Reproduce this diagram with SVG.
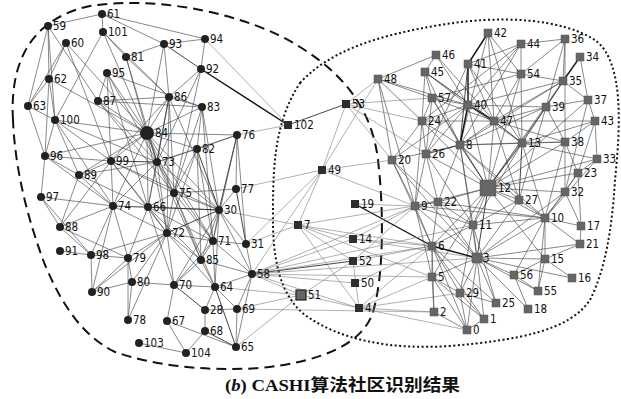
<svg xmlns="http://www.w3.org/2000/svg" width="621" height="399" viewBox="0 0 621 399">
<style>
.bg{fill:#fff}
.e path{fill:none;stroke:#484848;stroke-width:0.65}
.e path.d{stroke:#222;stroke-width:0.85}
.e path.t{stroke:#111;stroke-width:1.4}
.e path.g{stroke:#7a7a7a;stroke-width:0.6}
.L circle{fill:#222}
.D rect{fill:#2e2e2e}
.R rect{fill:#666;stroke:#555;stroke-width:0.5}
text.l{font-family:"DejaVu Sans Condensed","DejaVu Sans",sans-serif;font-size:11.5px;fill:#111}
.cap{font-family:"Liberation Serif","Noto Sans CJK SC",serif;font-size:17px;font-weight:bold;fill:#111}
</style>
<rect class="bg" x="0" y="0" width="621" height="399"/>
<g id="boundaries" fill="none" stroke="#111" stroke-width="2">
<path d="M13 120C10 70 25 20 90 6C160 -5 250 15 300 47C345 75 372 110 378 160C384 210 384 280 372 315C360 345 320 362 260 368C200 372 150 364 115 352C80 335 60 300 45 265C28 220 15 170 13 120Z" stroke-dasharray="10,6"/>
<path d="M300 83C330 50 380 35 440 25C500 15 560 18 595 40C625 62 620 130 615 180C612 230 605 270 590 300C570 330 520 340 450 346C390 350 340 340 305 315C280 295 272 260 273 210C273 160 276 120 300 83Z" stroke-dasharray="2,2.5"/>
</g>
<g id="connectors" class="e">
<path d="M48 26 102 14"/><path d="M48 26 49 79"/><path d="M48 26 28 106"/><path d="M48 26 98 101"/><path d="M48 26 55 120"/>
<path d="M66 43 49 79"/><path d="M66 43 28 106"/><path d="M66 43 147 133"/><path d="M66 43 111 161"/>
<path d="M102 14 103 32"/><path d="M102 14 205 39"/><path d="M102 14 164 44"/>
<path d="M103 32 126 57"/><path d="M103 32 169 97"/><path d="M103 32 55 120"/><path d="M103 32 147 133"/>
<path d="M126 57 164 44"/><path d="M126 57 169 97"/><path d="M126 57 147 133"/><path d="M126 57 157 162"/>
<path d="M164 44 205 39"/><path class="d" d="M164 44 201 69"/><path d="M164 44 169 97"/><path d="M164 44 147 133"/>
<path d="M205 39 201 69"/><path class="g" d="M205 39 288 125"/><path class="t" d="M201 69 288 125"/>
<path d="M201 69 174 193"/><path d="M201 69 157 162"/><path d="M201 69 169 97"/>
<path d="M107 73 98 101"/><path d="M107 73 147 133"/><path d="M107 73 157 162"/><path d="M107 73 111 161"/><path d="M107 73 148 207"/><path d="M107 73 202 107"/>
<path d="M49 79 28 106"/><path d="M49 79 55 120"/><path d="M49 79 45 156"/><path d="M49 79 147 133"/>
<path d="M98 101 147 133"/><path d="M98 101 169 97"/><path d="M98 101 202 107"/><path d="M98 101 157 162"/><path d="M98 101 174 193"/>
<path d="M169 97 147 133"/><path d="M169 97 202 107"/><path class="d" d="M169 97 157 162"/><path d="M169 97 148 207"/><path d="M169 97 167 233"/><path d="M169 97 111 161"/><path d="M169 97 219 210"/><path d="M169 97 174 193"/>
<path d="M202 107 147 133"/><path d="M202 107 197 149"/><path d="M202 107 219 210"/><path d="M202 107 174 193"/><path d="M202 107 213 241"/>
<path d="M28 106 55 120"/><path d="M28 106 45 156"/>
<path d="M55 120 111 161"/><path d="M55 120 147 133"/><path d="M55 120 45 156"/><path d="M55 120 79 175"/><path d="M55 120 157 162"/><path d="M55 120 113 206"/>
<path d="M147 133 237 135"/><path class="d" d="M147 133 157 162"/><path d="M147 133 197 149"/><path d="M147 133 111 161"/><path d="M147 133 148 207"/><path d="M147 133 219 210"/><path d="M147 133 167 233"/><path d="M147 133 113 206"/><path d="M147 133 174 193"/><path d="M147 133 213 241"/><path d="M147 133 79 175"/><path d="M147 133 45 156"/>
<path d="M237 135 197 149"/><path d="M237 135 236 189"/><path class="d" d="M237 135 219 210"/><path d="M237 135 246 244"/><path class="g" d="M237 135 288 125"/><path d="M237 135 157 162"/><path d="M237 135 213 241"/>
<path d="M197 149 157 162"/><path class="d" d="M197 149 219 210"/><path d="M197 149 213 241"/><path d="M197 149 174 193"/><path d="M197 149 167 233"/><path d="M197 149 201 260"/>
<path class="d" d="M157 162 111 161"/><path d="M157 162 148 207"/><path d="M157 162 174 193"/><path d="M157 162 219 210"/><path d="M157 162 167 233"/><path d="M157 162 113 206"/><path d="M157 162 213 241"/><path d="M157 162 79 175"/><path d="M157 162 201 260"/>
<path d="M111 161 45 156"/><path d="M111 161 79 175"/><path d="M111 161 113 206"/><path d="M111 161 148 207"/><path d="M111 161 167 233"/><path d="M111 161 219 210"/><path d="M111 161 60 227"/><path d="M111 161 174 193"/>
<path d="M45 156 79 175"/><path d="M45 156 41 197"/><path d="M45 156 113 206"/>
<path d="M79 175 113 206"/><path d="M79 175 60 227"/><path d="M79 175 148 207"/>
<path d="M41 197 60 227"/><path d="M41 197 113 206"/><path d="M41 197 91 255"/>
<path d="M113 206 148 207"/><path d="M113 206 167 233"/><path d="M113 206 91 255"/><path d="M113 206 128 258"/><path d="M113 206 60 227"/><path d="M113 206 219 210"/><path d="M113 206 92 292"/>
<path d="M148 207 167 233"/><path class="d" d="M148 207 219 210"/><path d="M148 207 174 193"/><path d="M148 207 128 258"/><path d="M148 207 213 241"/><path d="M148 207 201 260"/><path d="M148 207 174 285"/>
<path d="M174 193 236 189"/><path d="M174 193 219 210"/><path d="M174 193 167 233"/><path d="M174 193 213 241"/><path d="M174 193 201 260"/><path d="M174 193 215 287"/>
<path d="M236 189 219 210"/><path class="d" d="M236 189 246 244"/><path class="g" d="M236 189 322 170"/>
<path d="M219 210 213 241"/><path class="d" d="M219 210 167 233"/><path d="M219 210 246 244"/><path d="M219 210 201 260"/><path d="M219 210 252 274"/><path class="g" d="M219 210 298 225"/><path d="M219 210 174 285"/><path d="M219 210 215 287"/>
<path d="M167 233 213 241"/><path d="M167 233 128 258"/><path d="M167 233 201 260"/><path d="M167 233 174 285"/><path d="M167 233 215 287"/><path d="M167 233 91 255"/><path d="M167 233 132 282"/><path d="M167 233 92 292"/><path d="M167 233 128 320"/>
<path d="M213 241 246 244"/><path d="M213 241 201 260"/><path d="M213 241 252 274"/><path d="M213 241 215 287"/><path d="M213 241 174 285"/>
<path d="M246 244 252 274"/><path class="g" d="M246 244 298 225"/>
<path d="M60 227 91 255"/><path d="M60 227 128 258"/><path d="M60 251 91 255"/>
<path d="M91 255 128 258"/><path d="M91 255 92 292"/>
<path d="M128 258 132 282"/><path d="M128 258 92 292"/><path d="M128 258 128 320"/>
<path d="M132 282 128 320"/><path d="M132 282 174 285"/><path d="M132 282 92 292"/>
<path d="M201 260 174 285"/><path d="M201 260 215 287"/><path d="M201 260 252 274"/>
<path class="d" d="M174 285 205 310"/><path d="M174 285 167 321"/><path d="M174 285 215 287"/>
<path d="M215 287 252 274"/><path d="M215 287 205 310"/><path class="d" d="M215 287 236 347"/><path class="g" d="M215 287 301 295"/><path d="M215 287 237 309"/>
<path d="M252 274 237 309"/><path d="M252 274 236 347"/><path class="g" d="M252 274 301 295"/>
<path d="M205 310 205 331"/><path d="M205 310 237 309"/>
<path d="M237 309 236 347"/><path class="g" d="M237 309 301 295"/>
<path d="M167 321 186 353"/><path d="M167 321 236 347"/>
<path class="d" d="M205 331 236 347"/><path d="M205 331 186 353"/><path d="M139 343 186 353"/>
<path class="d" d="M288 125 346 104"/>
<path class="g" d="M346 104 392 160"/><path class="g" d="M346 104 422 121"/><path class="g" d="M346 104 432 98"/><path class="g" d="M346 104 426 154"/><path class="g" d="M346 104 322 170"/><path class="g" d="M346 104 378 79"/>
<path class="g" d="M322 170 392 160"/><path class="g" d="M322 170 298 225"/><path class="g" d="M322 170 415 206"/><path class="g" d="M322 170 378 79"/><path class="g" d="M322 170 246 244"/><path class="g" d="M322 170 252 274"/>
<path class="g" d="M355 204 415 206"/><path class="t" d="M355 204 432 246"/>
<path class="g" d="M298 225 353 239"/><path class="g" d="M298 225 353 261"/><path class="g" d="M298 225 359 308"/><path class="g" d="M298 225 432 246"/><path class="g" d="M298 225 432 277"/><path class="g" d="M298 225 438 202"/>
<path class="g" d="M353 239 432 246"/><path class="g" d="M353 239 415 206"/><path class="g" d="M353 239 477 258"/><path class="g" d="M353 239 252 274"/>
<path class="d" d="M353 261 252 274"/><path class="g" d="M353 261 432 246"/><path class="g" d="M353 261 415 206"/><path class="g" d="M353 261 359 308"/><path class="g" d="M353 261 301 295"/>
<path class="g" d="M355 283 252 274"/><path class="g" d="M355 283 432 246"/>
<path class="g" d="M359 308 460 293"/><path class="g" d="M359 308 434 312"/><path class="g" d="M359 308 467 330"/><path class="g" d="M359 308 432 246"/><path class="g" d="M359 308 432 277"/><path class="g" d="M359 308 252 274"/><path class="g" d="M359 308 301 295"/><path class="g" d="M237 309 434 312"/><path class="g" d="M236 347 301 295"/>
<path class="g" d="M252 274 432 246"/><path class="g" d="M252 274 432 277"/><path class="g" d="M252 274 477 258"/><path class="g" d="M252 274 415 206"/><path class="g" d="M252 274 473 225"/>
<path d="M378 79 392 160"/><path d="M378 79 436 55"/><path d="M378 79 432 98"/><path d="M378 79 422 121"/><path d="M378 79 468 105"/><path d="M378 79 415 206"/>
<path d="M436 55 425 72"/><path d="M436 55 468 105"/><path d="M436 55 494 121"/>
<path d="M425 72 432 98"/><path d="M425 72 422 121"/><path d="M425 72 468 105"/><path class="d" d="M425 72 494 121"/><path d="M425 72 460 145"/>
<path class="t" d="M488 33 468 64"/><path d="M488 33 494 121"/><path d="M488 33 521 74"/><path d="M488 33 460 145"/><path d="M488 33 522 143"/>
<path class="t" d="M468 64 468 105"/><path d="M468 64 521 74"/><path class="d" d="M468 64 460 145"/><path d="M468 64 494 121"/><path d="M468 64 522 143"/><path d="M468 64 426 154"/>
<path d="M521 44 468 105"/><path d="M521 44 521 74"/><path d="M521 44 468 64"/><path d="M521 44 565 39"/><path d="M521 44 460 145"/><path d="M521 44 422 121"/>
<path d="M565 39 563 81"/><path d="M565 39 546 107"/><path d="M565 39 521 74"/><path d="M565 39 565 142"/>
<path class="t" d="M580 57 563 81"/><path d="M580 57 588 100"/><path d="M580 57 546 107"/>
<path d="M521 74 494 121"/><path d="M521 74 522 143"/><path d="M521 74 563 81"/><path d="M521 74 488 188"/><path d="M521 74 432 98"/>
<path d="M563 81 546 107"/><path d="M563 81 494 121"/><path d="M563 81 588 100"/><path d="M563 81 522 143"/><path d="M563 81 460 145"/><path d="M563 81 468 105"/><path d="M563 81 488 188"/>
<path d="M432 98 468 105"/><path d="M432 98 422 121"/><path d="M432 98 426 154"/><path d="M432 98 494 121"/><path d="M432 98 460 145"/><path d="M432 98 488 188"/>
<path class="t" d="M468 105 494 121"/><path class="t" d="M468 105 460 145"/><path d="M468 105 422 121"/><path d="M468 105 546 107"/><path d="M468 105 522 143"/><path d="M468 105 426 154"/><path d="M468 105 488 188"/><path d="M468 105 392 160"/>
<path d="M546 107 588 100"/><path d="M546 107 494 121"/><path d="M546 107 565 142"/><path d="M546 107 522 143"/><path d="M546 107 488 188"/><path d="M546 107 519 200"/><path d="M546 107 460 145"/>
<path d="M588 100 595 121"/><path d="M588 100 565 192"/><path d="M588 100 488 188"/>
<path d="M422 121 426 154"/><path d="M422 121 392 160"/><path d="M422 121 460 145"/><path d="M422 121 494 121"/><path d="M422 121 415 206"/><path d="M422 121 488 188"/>
<path class="d" d="M494 121 522 143"/><path d="M494 121 460 145"/><path d="M494 121 488 188"/><path d="M494 121 595 121"/><path d="M494 121 519 200"/><path d="M494 121 565 142"/>
<path d="M595 121 565 142"/><path d="M595 121 597 159"/><path d="M595 121 578 173"/><path d="M595 121 522 143"/>
<path d="M392 160 415 206"/><path d="M392 160 477 258"/><path d="M392 160 432 246"/><path d="M392 160 460 145"/><path d="M392 160 438 202"/>
<path class="d" d="M426 154 460 145"/><path d="M426 154 488 188"/><path d="M426 154 438 202"/><path d="M426 154 415 206"/><path d="M426 154 473 225"/>
<path class="d" d="M460 145 488 188"/><path d="M460 145 522 143"/><path d="M460 145 519 200"/><path d="M460 145 473 225"/><path d="M460 145 438 202"/><path d="M460 145 477 258"/><path d="M460 145 545 218"/><path d="M460 145 565 142"/>
<path class="d" d="M522 143 488 188"/><path class="d" d="M522 143 519 200"/><path d="M522 143 565 142"/><path d="M522 143 597 159"/><path d="M522 143 473 225"/><path d="M522 143 545 218"/>
<path d="M565 142 578 173"/><path d="M565 142 565 192"/><path d="M565 142 545 218"/><path d="M565 142 488 188"/>
<path d="M597 159 578 173"/><path d="M597 159 488 188"/><path d="M597 159 545 218"/>
<path d="M578 173 545 218"/><path d="M578 173 565 192"/><path d="M578 173 581 226"/><path d="M578 173 488 188"/>
<path d="M488 188 519 200"/><path d="M488 188 473 225"/><path class="d" d="M488 188 477 258"/><path d="M488 188 415 206"/><path d="M488 188 438 202"/><path d="M488 188 545 218"/><path d="M488 188 565 192"/><path d="M488 188 432 246"/><path d="M488 188 545 259"/><path d="M488 188 432 277"/>
<path d="M565 192 545 218"/><path d="M565 192 581 226"/><path d="M565 192 477 258"/>
<path d="M519 200 545 218"/><path d="M519 200 473 225"/><path d="M519 200 477 258"/>
<path d="M415 206 438 202"/><path d="M415 206 432 246"/><path d="M415 206 477 258"/><path d="M415 206 473 225"/><path d="M415 206 432 277"/><path d="M415 206 545 218"/>
<path d="M438 202 473 225"/><path d="M438 202 477 258"/><path d="M438 202 432 246"/><path d="M438 202 545 218"/>
<path d="M473 225 477 258"/><path d="M473 225 545 218"/><path d="M473 225 432 246"/><path d="M473 225 460 293"/><path d="M473 225 496 303"/>
<path d="M545 218 581 226"/><path d="M545 218 580 244"/><path d="M545 218 477 258"/><path d="M545 218 545 259"/><path d="M545 218 538 291"/><path d="M545 218 514 275"/>
<path d="M581 226 580 244"/><path d="M580 244 477 258"/><path d="M580 244 545 259"/>
<path class="t" d="M432 246 477 258"/><path d="M432 246 432 277"/><path d="M432 246 460 293"/><path d="M432 246 496 303"/><path d="M432 246 467 330"/><path d="M432 246 434 312"/><path d="M432 246 484 319"/>
<path d="M477 258 545 259"/><path d="M477 258 514 275"/><path d="M477 258 496 303"/><path d="M477 258 528 309"/><path d="M477 258 460 293"/><path d="M477 258 432 277"/><path d="M477 258 484 319"/><path d="M477 258 538 291"/><path d="M477 258 572 278"/><path d="M477 258 467 330"/>
<path d="M545 259 572 278"/><path d="M545 259 514 275"/><path d="M545 259 538 291"/>
<path d="M514 275 538 291"/><path d="M514 275 528 309"/>
<path d="M432 277 460 293"/><path d="M432 277 434 312"/><path d="M432 277 467 330"/><path d="M432 277 484 319"/>
<path d="M460 293 467 330"/><path d="M460 293 496 303"/><path d="M460 293 484 319"/>
<path d="M484 319 467 330"/><path d="M434 312 467 330"/>
</g>
<g id="nodes">
<g id="n59" class="L"><circle cx="48" cy="26" r="4"/><text class="l" x="53" y="30">59</text></g>
<g id="n61" class="L"><circle cx="102" cy="14" r="4"/><text class="l" x="107" y="18">61</text></g>
<g id="n101" class="L"><circle cx="103" cy="32" r="4"/><text class="l" x="108" y="36">101</text></g>
<g id="n60" class="L"><circle cx="66" cy="43" r="4"/><text class="l" x="71" y="47">60</text></g>
<g id="n93" class="L"><circle cx="164" cy="44" r="4"/><text class="l" x="169" y="48">93</text></g>
<g id="n94" class="L"><circle cx="205" cy="39" r="4"/><text class="l" x="210" y="43">94</text></g>
<g id="n81" class="L"><circle cx="126" cy="57" r="4"/><text class="l" x="131" y="61">81</text></g>
<g id="n92" class="L"><circle cx="201" cy="69" r="4"/><text class="l" x="206" y="73">92</text></g>
<g id="n95" class="L"><circle cx="107" cy="73" r="4"/><text class="l" x="112" y="77">95</text></g>
<g id="n62" class="L"><circle cx="49" cy="79" r="4"/><text class="l" x="54" y="83">62</text></g>
<g id="n87" class="L"><circle cx="98" cy="101" r="4"/><text class="l" x="103" y="105">87</text></g>
<g id="n86" class="L"><circle cx="169" cy="97" r="4"/><text class="l" x="174" y="101">86</text></g>
<g id="n83" class="L"><circle cx="202" cy="107" r="4"/><text class="l" x="207" y="111">83</text></g>
<g id="n63" class="L"><circle cx="28" cy="106" r="4"/><text class="l" x="33" y="110">63</text></g>
<g id="n100" class="L"><circle cx="55" cy="120" r="4"/><text class="l" x="60" y="124">100</text></g>
<g id="n84" class="L"><circle cx="147" cy="133" r="7"/><text class="l" x="155" y="137">84</text></g>
<g id="n76" class="L"><circle cx="237" cy="135" r="4"/><text class="l" x="242" y="139">76</text></g>
<g id="n82" class="L"><circle cx="197" cy="149" r="4"/><text class="l" x="202" y="153">82</text></g>
<g id="n73" class="L"><circle cx="157" cy="162" r="4"/><text class="l" x="162" y="166">73</text></g>
<g id="n99" class="L"><circle cx="111" cy="161" r="4"/><text class="l" x="116" y="165">99</text></g>
<g id="n96" class="L"><circle cx="45" cy="156" r="4"/><text class="l" x="50" y="160">96</text></g>
<g id="n89" class="L"><circle cx="79" cy="175" r="4"/><text class="l" x="84" y="179">89</text></g>
<g id="n97" class="L"><circle cx="41" cy="197" r="4"/><text class="l" x="46" y="201">97</text></g>
<g id="n74" class="L"><circle cx="113" cy="206" r="4"/><text class="l" x="118" y="210">74</text></g>
<g id="n66" class="L"><circle cx="148" cy="207" r="4"/><text class="l" x="153" y="211">66</text></g>
<g id="n75" class="L"><circle cx="174" cy="193" r="4"/><text class="l" x="179" y="197">75</text></g>
<g id="n77" class="L"><circle cx="236" cy="189" r="4"/><text class="l" x="241" y="193">77</text></g>
<g id="n30" class="L"><circle cx="219" cy="210" r="4"/><text class="l" x="224" y="214">30</text></g>
<g id="n72" class="L"><circle cx="167" cy="233" r="4"/><text class="l" x="172" y="237">72</text></g>
<g id="n71" class="L"><circle cx="213" cy="241" r="4"/><text class="l" x="218" y="245">71</text></g>
<g id="n31" class="L"><circle cx="246" cy="244" r="4"/><text class="l" x="251" y="248">31</text></g>
<g id="n88" class="L"><circle cx="60" cy="227" r="4"/><text class="l" x="65" y="231">88</text></g>
<g id="n91" class="L"><circle cx="60" cy="251" r="4"/><text class="l" x="65" y="255">91</text></g>
<g id="n98" class="L"><circle cx="91" cy="255" r="4"/><text class="l" x="96" y="259">98</text></g>
<g id="n79" class="L"><circle cx="128" cy="258" r="4"/><text class="l" x="133" y="262">79</text></g>
<g id="n85" class="L"><circle cx="201" cy="260" r="4"/><text class="l" x="206" y="264">85</text></g>
<g id="n90" class="L"><circle cx="92" cy="292" r="4"/><text class="l" x="97" y="296">90</text></g>
<g id="n80" class="L"><circle cx="132" cy="282" r="4"/><text class="l" x="137" y="286">80</text></g>
<g id="n70" class="L"><circle cx="174" cy="285" r="4"/><text class="l" x="179" y="289">70</text></g>
<g id="n64" class="L"><circle cx="215" cy="287" r="4"/><text class="l" x="220" y="291">64</text></g>
<g id="n58" class="L"><circle cx="252" cy="274" r="4"/><text class="l" x="257" y="278">58</text></g>
<g id="n28" class="L"><circle cx="205" cy="310" r="4"/><text class="l" x="210" y="314">28</text></g>
<g id="n69" class="L"><circle cx="237" cy="309" r="4"/><text class="l" x="242" y="313">69</text></g>
<g id="n78" class="L"><circle cx="128" cy="320" r="4"/><text class="l" x="133" y="324">78</text></g>
<g id="n67" class="L"><circle cx="167" cy="321" r="4"/><text class="l" x="172" y="325">67</text></g>
<g id="n68" class="L"><circle cx="205" cy="331" r="4"/><text class="l" x="210" y="335">68</text></g>
<g id="n65" class="L"><circle cx="236" cy="347" r="4"/><text class="l" x="241" y="351">65</text></g>
<g id="n103" class="L"><circle cx="139" cy="343" r="4"/><text class="l" x="144" y="347">103</text></g>
<g id="n104" class="L"><circle cx="186" cy="353" r="4"/><text class="l" x="191" y="357">104</text></g>
<g id="n102" class="D"><rect x="284" y="121" width="8" height="8"/><text class="l" x="294" y="129">102</text></g>
<g id="n53" class="D"><rect x="342" y="100" width="8" height="8"/><text class="l" x="352" y="108">53</text></g>
<g id="n49" class="D"><rect x="318" y="166" width="8" height="8"/><text class="l" x="328" y="174">49</text></g>
<g id="n19" class="D"><rect x="351" y="200" width="8" height="8"/><text class="l" x="361" y="208">19</text></g>
<g id="n7" class="D"><rect x="294" y="221" width="8" height="8"/><text class="l" x="304" y="229">7</text></g>
<g id="n14" class="D"><rect x="349" y="235" width="8" height="8"/><text class="l" x="359" y="243">14</text></g>
<g id="n52" class="D"><rect x="349" y="257" width="8" height="8"/><text class="l" x="359" y="265">52</text></g>
<g id="n50" class="D"><rect x="351" y="279" width="8" height="8"/><text class="l" x="361" y="287">50</text></g>
<g id="n51" class="D"><rect x="296" y="290" width="10" height="10" style="fill:#666;stroke:#222;stroke-width:1.2"/><text class="l" x="308" y="299">51</text></g>
<g id="n4" class="D"><rect x="355" y="304" width="8" height="8"/><text class="l" x="365" y="312">4</text></g>
<g id="n48" class="R"><rect x="374" y="75" width="8" height="8"/><text class="l" x="384" y="83">48</text></g>
<g id="n46" class="R"><rect x="432" y="51" width="8" height="8"/><text class="l" x="442" y="59">46</text></g>
<g id="n45" class="R"><rect x="421" y="68" width="8" height="8"/><text class="l" x="431" y="76">45</text></g>
<g id="n42" class="R"><rect x="484" y="29" width="8" height="8"/><text class="l" x="494" y="37">42</text></g>
<g id="n41" class="R"><rect x="464" y="60" width="8" height="8"/><text class="l" x="474" y="68">41</text></g>
<g id="n44" class="R"><rect x="517" y="40" width="8" height="8"/><text class="l" x="527" y="48">44</text></g>
<g id="n36" class="R"><rect x="561" y="35" width="8" height="8"/><text class="l" x="571" y="43">36</text></g>
<g id="n34" class="R"><rect x="576" y="53" width="8" height="8"/><text class="l" x="586" y="61">34</text></g>
<g id="n54" class="R"><rect x="517" y="70" width="8" height="8"/><text class="l" x="527" y="78">54</text></g>
<g id="n35" class="R"><rect x="559" y="77" width="8" height="8"/><text class="l" x="569" y="85">35</text></g>
<g id="n57" class="R"><rect x="428" y="94" width="8" height="8"/><text class="l" x="438" y="102">57</text></g>
<g id="n40" class="R"><rect x="464" y="101" width="8" height="8"/><text class="l" x="474" y="109">40</text></g>
<g id="n39" class="R"><rect x="542" y="103" width="8" height="8"/><text class="l" x="552" y="111">39</text></g>
<g id="n37" class="R"><rect x="584" y="96" width="8" height="8"/><text class="l" x="594" y="104">37</text></g>
<g id="n24" class="R"><rect x="418" y="117" width="8" height="8"/><text class="l" x="428" y="125">24</text></g>
<g id="n47" class="R"><rect x="490" y="117" width="8" height="8"/><text class="l" x="500" y="125">47</text></g>
<g id="n43" class="R"><rect x="591" y="117" width="8" height="8"/><text class="l" x="601" y="125">43</text></g>
<g id="n20" class="R"><rect x="388" y="156" width="8" height="8"/><text class="l" x="398" y="164">20</text></g>
<g id="n26" class="R"><rect x="422" y="150" width="8" height="8"/><text class="l" x="432" y="158">26</text></g>
<g id="n8" class="R"><rect x="456" y="141" width="8" height="8"/><text class="l" x="466" y="149">8</text></g>
<g id="n13" class="R"><rect x="518" y="139" width="8" height="8"/><text class="l" x="528" y="147">13</text></g>
<g id="n38" class="R"><rect x="561" y="138" width="8" height="8"/><text class="l" x="571" y="146">38</text></g>
<g id="n33" class="R"><rect x="593" y="155" width="8" height="8"/><text class="l" x="603" y="163">33</text></g>
<g id="n23" class="R"><rect x="574" y="169" width="8" height="8"/><text class="l" x="584" y="177">23</text></g>
<g id="n12" class="R"><rect x="480" y="180" width="16" height="16"/><text class="l" x="498" y="192">12</text></g>
<g id="n32" class="R"><rect x="561" y="188" width="8" height="8"/><text class="l" x="571" y="196">32</text></g>
<g id="n27" class="R"><rect x="515" y="196" width="8" height="8"/><text class="l" x="525" y="204">27</text></g>
<g id="n9" class="R"><rect x="411" y="202" width="8" height="8"/><text class="l" x="421" y="210">9</text></g>
<g id="n22" class="R"><rect x="434" y="198" width="8" height="8"/><text class="l" x="444" y="206">22</text></g>
<g id="n11" class="R"><rect x="469" y="221" width="8" height="8"/><text class="l" x="479" y="229">11</text></g>
<g id="n10" class="R"><rect x="541" y="214" width="8" height="8"/><text class="l" x="551" y="222">10</text></g>
<g id="n17" class="R"><rect x="577" y="222" width="8" height="8"/><text class="l" x="587" y="230">17</text></g>
<g id="n21" class="R"><rect x="576" y="240" width="8" height="8"/><text class="l" x="586" y="248">21</text></g>
<g id="n6" class="R"><rect x="428" y="242" width="8" height="8"/><text class="l" x="438" y="250">6</text></g>
<g id="n3" class="R"><rect x="472" y="253" width="10" height="10"/><text class="l" x="483" y="262">3</text></g>
<g id="n15" class="R"><rect x="541" y="255" width="8" height="8"/><text class="l" x="551" y="263">15</text></g>
<g id="n56" class="R"><rect x="510" y="271" width="8" height="8"/><text class="l" x="520" y="279">56</text></g>
<g id="n16" class="R"><rect x="568" y="274" width="8" height="8"/><text class="l" x="578" y="282">16</text></g>
<g id="n5" class="R"><rect x="428" y="273" width="8" height="8"/><text class="l" x="438" y="281">5</text></g>
<g id="n29" class="R"><rect x="456" y="289" width="8" height="8"/><text class="l" x="466" y="297">29</text></g>
<g id="n55" class="R"><rect x="534" y="287" width="8" height="8"/><text class="l" x="544" y="295">55</text></g>
<g id="n25" class="R"><rect x="492" y="299" width="8" height="8"/><text class="l" x="502" y="307">25</text></g>
<g id="n18" class="R"><rect x="524" y="305" width="8" height="8"/><text class="l" x="534" y="313">18</text></g>
<g id="n2" class="R"><rect x="430" y="308" width="8" height="8"/><text class="l" x="440" y="316">2</text></g>
<g id="n1" class="R"><rect x="480" y="315" width="8" height="8"/><text class="l" x="490" y="323">1</text></g>
<g id="n0" class="R"><rect x="463" y="326" width="8" height="8"/><text class="l" x="473" y="334">0</text></g>
</g>
<text class="cap" x="225" y="391" textLength="235" lengthAdjust="spacingAndGlyphs">(<tspan font-style="italic">b</tspan>) CASHI算法社区识别结果</text>
</svg>
